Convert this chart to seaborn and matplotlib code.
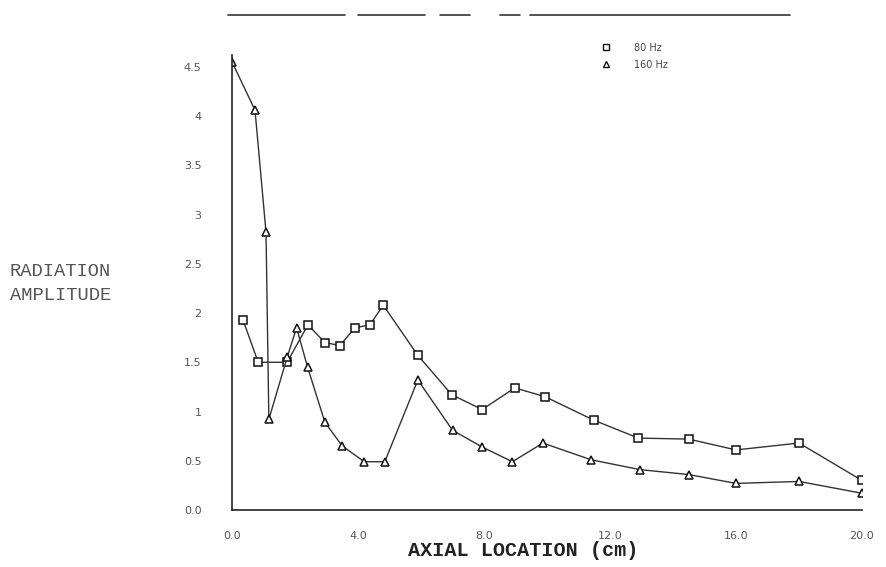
import seaborn as sns
import matplotlib.pyplot as plt
from matplotlib.lines import Line2D
from matplotlib.ticker import MultipleLocator

# axial location (cm) and radiation amplitude
loc_80 = [0.35, 0.83, 1.75, 2.41, 2.95, 3.43, 3.9, 4.38, 4.8, 5.9, 6.98,
          7.94, 8.98, 9.94, 11.5, 12.9, 14.5, 16.0, 18.0, 20.0]
amp_80 = [1.93, 1.50, 1.50, 1.88, 1.70, 1.67, 1.85, 1.88, 2.08, 1.57, 1.17,
          1.02, 1.24, 1.15, 0.91, 0.73, 0.72, 0.61, 0.68, 0.30]

loc_160 = [0.0, 0.73, 1.08, 1.17, 1.75, 2.05, 2.4, 2.95, 3.5, 4.2, 4.85,
           5.9, 7.0, 7.94, 8.9, 9.87, 11.4, 12.95, 14.5, 16.0, 18.0, 20.0]
amp_160 = [4.55, 4.06, 2.82, 0.92, 1.55, 1.85, 1.45, 0.89, 0.65, 0.49, 0.49,
           1.32, 0.81, 0.64, 0.49, 0.68, 0.51, 0.41, 0.36, 0.27, 0.29, 0.17]

x_ticks = [0, 4, 8, 12, 16, 20]
x_tick_labels = ['0.0', '4.0', '8.0', '12.0', '16.0', '20.0']
y_ticks = [0, 0.5, 1, 1.5, 2, 2.5, 3, 3.5, 4, 4.5]
y_tick_labels = ['0.0', '0.5', '1', '1.5', '2', '2.5', '3', '3.5', '4', '4.5']

sns.set_style('white')

fig = plt.figure(figsize=(8.87, 5.67), dpi=100)
ax = fig.add_axes([232/887, 1 - 510/567, 630/887, 455/567])

sns.lineplot(x=loc_80, y=amp_80, sort=False, ax=ax, color='#333333', lw=1.0,
             marker='s', markersize=6, markerfacecolor='white',
             markeredgecolor='#111111', markeredgewidth=1.1)
sns.lineplot(x=loc_160, y=amp_160, sort=False, ax=ax, color='#333333', lw=1.0,
             marker='^', markersize=6, markerfacecolor='white',
             markeredgecolor='#111111', markeredgewidth=1.1)

ax.set_xlim(0, 20)
ax.set_ylim(0, 4.62)
ax.set_xticks(x_ticks)
ax.set_xticklabels(x_tick_labels)
ax.set_yticks(y_ticks)
ax.set_yticklabels(y_tick_labels)
ax.xaxis.set_minor_locator(MultipleLocator(0.5))
ax.yaxis.set_minor_locator(MultipleLocator(0.1))
ax.tick_params(axis='both', which='major', direction='in', length=7, width=1.2,
               colors='#222222', labelcolor='#555555', labelsize=8)
ax.tick_params(axis='y', which='major', pad=22)
ax.tick_params(axis='x', which='major', pad=15)
ax.tick_params(axis='both', which='minor', direction='in', length=3, width=1.0,
               colors='#222222')
ax.set_xlabel('')
ax.set_ylabel('')

for s in ['top', 'right']:
    ax.spines[s].set_visible(False)
for s in ['left', 'bottom']:
    ax.spines[s].set_color('#222222')
    ax.spines[s].set_linewidth(1.2)

# legend, markers only
handles = [Line2D([], [], marker='s', linestyle='none', markersize=5,
                  markerfacecolor='white', markeredgecolor='#111111'),
           Line2D([], [], marker='^', linestyle='none', markersize=5,
                  markerfacecolor='white', markeredgecolor='#111111')]
fig.legend(handles, ['80 Hz', '160 Hz'], loc='upper left',
           bbox_to_anchor=(588/887, 1 - 34/567), frameon=False, fontsize=7,
           handletextpad=1.8, labelspacing=0.7, labelcolor='#444444')

# broken frame line across the top
for x0, x1 in [(228, 345), (358, 425), (440, 470), (500, 520), (530, 790)]:
    fig.add_artist(Line2D([x0/887, x1/887], [1 - 15/567] * 2,
                          transform=fig.transFigure, color='#333333', lw=1.2))

fig.text(10/887, 1 - 272/567, 'RADIATION', family='Liberation Mono',
         fontsize=13.5, color='#555555', ha='left', va='center')
fig.text(10/887, 1 - 296/567, 'AMPLITUDE', family='Liberation Mono',
         fontsize=13.5, color='#555555', ha='left', va='center')
fig.text(523/887, 1 - 551/567, 'AXIAL LOCATION (cm)', family='Liberation Mono',
         fontweight='bold', fontsize=14.5, color='#222222', ha='center', va='center')

fig.savefig('out.png', dpi=100, facecolor='white')
